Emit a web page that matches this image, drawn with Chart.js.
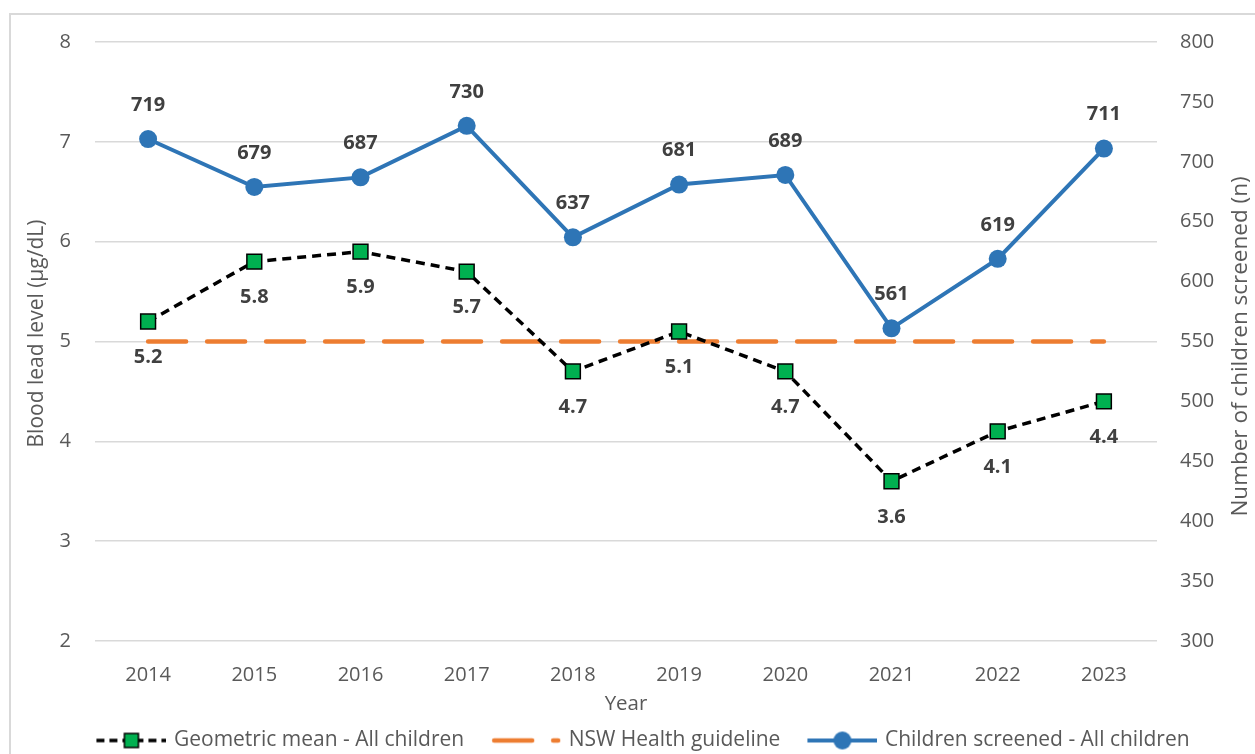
<!DOCTYPE html>
<html>
<head>
<meta charset="utf-8">
<title>Blood lead levels</title>
<script src="https://cdn.jsdelivr.net/npm/chart.js@4.4.1/dist/chart.umd.min.js"></script>
<style>
  html, body { margin: 0; padding: 0; background: #fff; overflow: hidden; }
  #wrap { width: 1255px; height: 754px; }
</style>
</head>
<body>
<div id="wrap"><canvas id="leadChart" width="1255" height="754"></canvas></div>
<script>
const years = ['2014', '2015', '2016', '2017', '2018', '2019', '2020', '2021', '2022', '2023'];
const geoMean = [5.2, 5.8, 5.9, 5.7, 4.7, 5.1, 4.7, 3.6, 4.1, 4.4];
const guideline = [5, 5, 5, 5, 5, 5, 5, 5, 5, 5];
const screened = [719, 679, 687, 730, 637, 681, 689, 561, 619, 711];

const leadMin = 2, leadMax = 8, leadStep = 1;
const countMin = 300, countMax = 800, countStep = 50;

const leadTitle = 'Blood lead level (µg/dL)';
const countTitle = 'Number of children screened (n)';

const FONT = '"Open Sans", "Noto Sans", sans-serif';
const TEXT = '#595959';

// line+marker swatches for the legend; drawn a bit past the box so the text sits close
function swatch(draw) {
  const c = document.createElement('canvas');
  c.width = 94; c.height = 22;
  const g = c.getContext('2d');
  draw(g, 24, 94, 11);
  return c;
}

const geoIcon = swatch((g, x0, x1, y) => {
  g.strokeStyle = '#000'; g.lineWidth = 3.5; g.setLineDash([8, 5]);
  g.beginPath(); g.moveTo(x0, y); g.lineTo(x1, y); g.stroke();
  g.setLineDash([]);
  const cx = (x0 + x1) / 2;
  g.fillStyle = '#00B050'; g.fillRect(cx - 7, y - 7, 14, 14);
  g.lineWidth = 1.5; g.strokeRect(cx - 7, y - 7, 14, 14);
});

const guideIcon = swatch((g, x0, x1, y) => {
  g.strokeStyle = '#ED7D31'; g.lineWidth = 4.5; g.lineCap = 'round';
  g.setLineDash([38, 21]);
  g.beginPath(); g.moveTo(x0 + 3, y); g.lineTo(x1 - 3, y); g.stroke();
});

const screenIcon = swatch((g, x0, x1, y) => {
  g.strokeStyle = '#2E75B6'; g.lineWidth = 4;
  g.beginPath(); g.moveTo(x0, y); g.lineTo(x1, y); g.stroke();
  g.fillStyle = '#2E75B6';
  g.beginPath(); g.arc((x0 + x1) / 2, y, 9, 0, Math.PI * 2); g.fill();
});

// value labels: offset in px from the point, decimals
const labelSpec = {
  0: { dy: 36, digits: 1 },
  2: { dy: -34, digits: 0 }
};

const valueLabels = {
  id: 'valueLabels',
  afterDatasetsDraw(chart) {
    const ctx = chart.ctx;
    ctx.save();
    ctx.font = 'bold 20px ' + FONT;
    ctx.fillStyle = '#404040';
    ctx.textAlign = 'center';
    ctx.textBaseline = 'middle';
    Object.keys(labelSpec).forEach(k => {
      const i = Number(k);
      const spec = labelSpec[i];
      const ds = chart.data.datasets[i];
      chart.getDatasetMeta(i).data.forEach((pt, j) => {
        ctx.fillText(ds.data[j].toFixed(spec.digits), pt.x, pt.y + spec.dy);
      });
    });
    ctx.restore();
  }
};

function sideTitle(ctx, text, x, y, size) {
  ctx.save();
  ctx.translate(x, y);
  ctx.rotate(-Math.PI / 2);
  ctx.font = size + 'px ' + FONT;
  ctx.fillStyle = TEXT;
  ctx.textAlign = 'center';
  ctx.textBaseline = 'middle';
  ctx.fillText(text, 0, 0);
  ctx.restore();
}

const frame = {
  id: 'frame',
  beforeDraw(chart) {
    const ctx = chart.ctx;
    ctx.save();
    ctx.fillStyle = '#fff';
    ctx.fillRect(0, 0, chart.width, chart.height);
    ctx.strokeStyle = '#d9d9d9';
    ctx.lineWidth = 2;
    ctx.strokeRect(10, 14, chart.width + 20, chart.height + 20);
    ctx.restore();
  },
  afterDraw(chart) {
    // both axis titles read bottom-to-top
    const a = chart.chartArea;
    const mid = (a.top + a.bottom) / 2;
    sideTitle(chart.ctx, leadTitle, 37, mid - 8, 21);
    sideTitle(chart.ctx, countTitle, 1241, mid + 5, 22.5);
  }
};

new Chart(document.getElementById('leadChart'), {
  type: 'line',
  data: {
    labels: years,
    datasets: [
      {
        label: 'Geometric mean - All children',
        data: geoMean,
        yAxisID: 'y',
        order: 2,
        borderColor: '#000',
        borderWidth: 3.5,
        borderDash: [9, 6],
        pointStyle: 'rect',
        pointRadius: 10.5,
        pointHoverRadius: 10.5,
        pointBackgroundColor: '#00B050',
        pointBorderColor: '#000',
        pointBorderWidth: 1.5,
        tension: 0
      },
      {
        label: 'NSW Health guideline',
        data: guideline,
        yAxisID: 'y',
        order: 3,
        borderColor: '#ED7D31',
        borderWidth: 4.5,
        borderDash: [38, 21],
        borderCapStyle: 'round',
        pointRadius: 0,
        tension: 0
      },
      {
        label: 'Children screened - All children',
        data: screened,
        yAxisID: 'y2',
        order: 1,
        borderColor: '#2E75B6',
        borderWidth: 4,
        pointRadius: 9,
        pointHoverRadius: 9,
        pointBackgroundColor: '#2E75B6',
        pointBorderColor: '#2E75B6',
        pointBorderWidth: 0,
        tension: 0
      }
    ]
  },
  options: {
    responsive: false,
    devicePixelRatio: 1,
    animation: false,
    events: [],
    layout: {
      padding: { top: 42, left: 10, right: 0, bottom: -7 }
    },
    scales: {
      x: {
        offset: true,
        grid: { display: false },
        border: { display: false },
        ticks: { color: TEXT, font: { family: FONT, size: 20 }, padding: 14 },
        title: { display: true, text: 'Year', color: TEXT, font: { family: FONT, size: 20.5 }, padding: { top: 0, bottom: 8 } },
        afterFit: s => { s.height = 83; }
      },
      y: {
        position: 'left',
        min: leadMin,
        max: leadMax,
        ticks: { stepSize: leadStep, color: TEXT, font: { family: FONT, size: 20 }, padding: 24 },
        grid: { color: '#d9d9d9', lineWidth: 1.5, drawTicks: false },
        border: { display: false },
        afterFit: s => { s.width = 85; }
      },
      y2: {
        position: 'right',
        min: countMin,
        max: countMax,
        ticks: { stepSize: countStep, autoSkip: false, color: TEXT, font: { family: FONT, size: 20 }, padding: 23 },
        grid: { display: false, drawTicks: false },
        border: { display: false },
        afterFit: s => { s.width = 98; }
      }
    },
    plugins: {
      tooltip: { enabled: false },
      legend: {
        position: 'bottom',
        labels: {
          usePointStyle: true,
          pointStyleWidth: 88,
          padding: 6,
          color: TEXT,
          font: { family: FONT, size: 21 },
          generateLabels: () => [
            { text: 'Geometric mean - All children', pointStyle: geoIcon, fillStyle: 'transparent', strokeStyle: 'transparent', lineWidth: 0, fontColor: TEXT, datasetIndex: 0 },
            { text: 'NSW Health guideline', pointStyle: guideIcon, fillStyle: 'transparent', strokeStyle: 'transparent', lineWidth: 0, fontColor: TEXT, datasetIndex: 1 },
            { text: 'Children screened - All children', pointStyle: screenIcon, fillStyle: 'transparent', strokeStyle: 'transparent', lineWidth: 0, fontColor: TEXT, datasetIndex: 2 }
          ]
        }
      }
    }
  },
  plugins: [frame, valueLabels]
});
</script>
</body>
</html>
